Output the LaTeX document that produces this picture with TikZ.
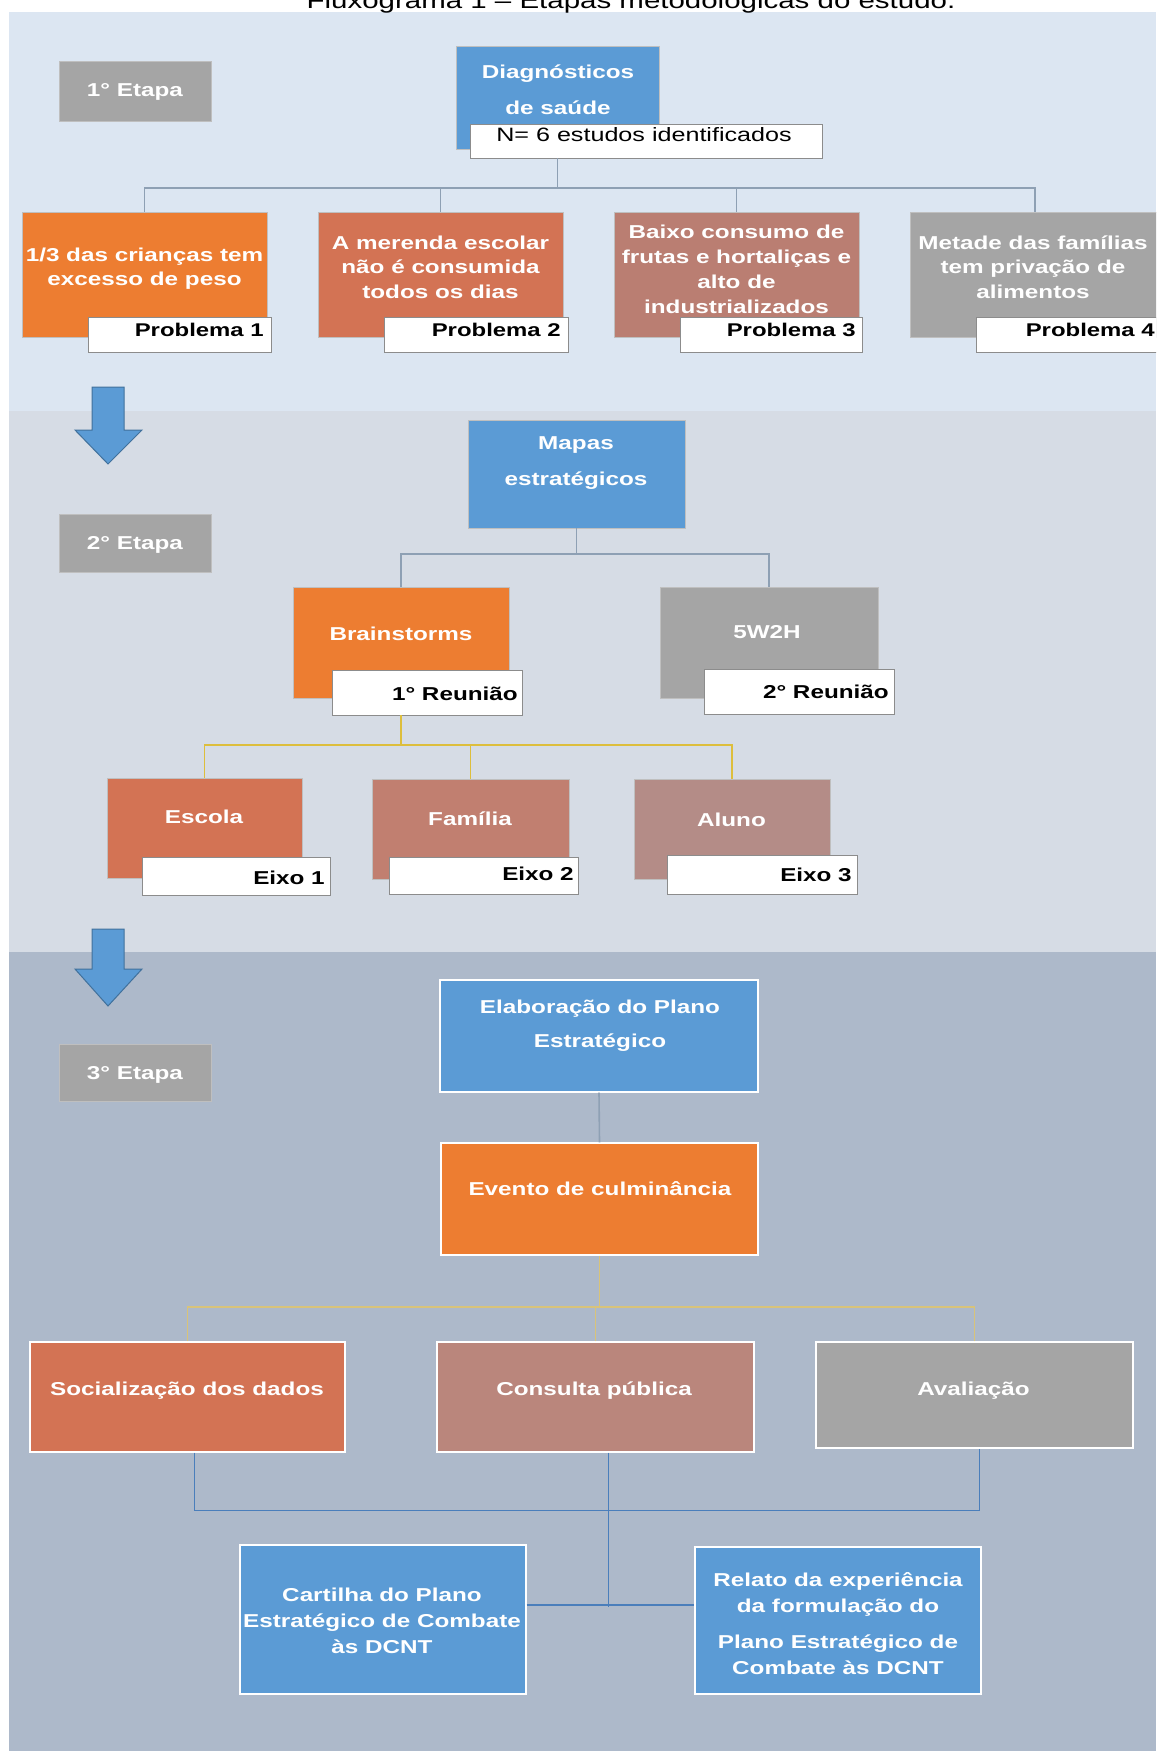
\documentclass[tikz,border=0pt]{standalone}
\usepackage{fontspec}
\setmainfont{Liberation Sans}[FakeStretch=1.3]
\usetikzlibrary{fit}
\definecolor{bandA}{HTML}{DCE6F2}
\definecolor{bandB}{HTML}{D6DCE5}
\definecolor{bandC}{HTML}{ADB9CA}
\definecolor{cblue}{HTML}{5B9BD5}
\definecolor{corange}{HTML}{ED7D31}
\definecolor{cterra}{HTML}{D37354}
\definecolor{crose}{HTML}{BA7E72}
\definecolor{crosb}{HTML}{C17F70}
\definecolor{crosc}{HTML}{BA867C}
\definecolor{cmauve}{HTML}{B48C87}
\definecolor{cgray}{HTML}{A5A5A5}
\definecolor{clineg}{HTML}{8EA0B4}
\definecolor{clineb}{HTML}{4A7EBB}
\definecolor{cyelA}{HTML}{DDBE3C}
\definecolor{cyelB}{HTML}{D8C37A}
\definecolor{carrow}{HTML}{41719C}
\begin{document}
\begin{tikzpicture}[x=0.75pt,y=-0.75pt,
  box/.style={inner sep=0pt, draw=black!25, line width=0.5pt},
  boxw/.style={inner sep=0pt, draw=white, line width=1pt},
  lbl/.style={inner sep=0pt, fill=white, draw=black!45, line width=0.6pt},
  wt/.style={text=white, align=center, inner sep=0pt, font=\bfseries\fontsize{14pt}{#1}\selectfont},
  wt/.default=18.5pt,
  lt/.style={text=black, inner sep=0pt, anchor=base east, font=\bfseries\fontsize{14pt}{17pt}\selectfont},
  gline/.style={draw=clineg, line width=1.2pt},
  yline/.style={draw=cyelA, line width=1.2pt},
  yline2/.style={draw=cyelB, line width=1.4pt},
  bline/.style={draw=clineb, line width=1.2pt},
  barrow/.style={fill=cblue, draw=carrow, line width=0.75pt}
]
\useasboundingbox (0,0) rectangle (1156,1751);
\begin{scope}
\clip (0,0) rectangle (1156,1751);
\fill[white] (0,0) rectangle (1156,1751);
\fill[bandA] (9,12) rectangle (1156,411);
\fill[bandB] (9,411) rectangle (1156,952);
\fill[bandC] (9,952) rectangle (1156,1751);

% title (cut at top, as in the reference)
\node[font=\fontsize{17pt}{20pt}\selectfont, anchor=base, inner sep=0pt] (title) at (631,8.5) {Fluxograma 1 – Etapas metodológicas do estudo.};

% ---------- Stage 1 ----------
\node[box, fill=cgray, fit={(59,61) (211,121)}] (e1) {};
\node[wt, anchor=base] (e1t) at (135,97) {1° Etapa};

\node[box, fill=cblue, fit={(456,46) (659,149)}] (diag) {};
\node[lbl, fit={(470,124) (822,158)}] (nlab) {};
\node[wt=27pt, anchor=center] (diagt) at (558,90) {Diagnósticos\\de saúde};
\node[font=\fontsize{14.5pt}{17pt}\selectfont, inner sep=0pt, anchor=base] (nt) at (644,142) {N= 6 estudos identificados};

\node[box, fill=corange, fit={(22,212) (267,337)}] (p1) {};
\node[box, fill=cterra, fit={(318,212) (563,337)}] (p2) {};
\node[box, fill=crose, fit={(614,212) (859,337)}] (p3) {};
\node[box, fill=cgray, fit={(910,212) (1160,337)}] (p4) {};
\node[lbl, fit={(88,317) (271,352)}] (l1) {};
\node[lbl, fit={(384,317) (568,352)}] (l2) {};
\node[lbl, fit={(680,317) (862,352)}] (l3) {};
\node[lbl, fit={(976,317) (1170,352)}] (l4) {};
\node[wt=18pt, anchor=center] (p1t) at (144.5,268.5) {1/3 das crianças tem\\excesso de peso};
\node[wt=18.5pt, anchor=center] (p2t) at (440.5,267) {A merenda escolar\\não é consumida\\todos os dias};
\node[wt=18.8pt, anchor=center] (p3t) at (736.5,269.5) {Baixo consumo de\\frutas e hortaliças e\\alto de\\industrializados};
\node[wt=18.5pt, anchor=center] (p4t) at (1033,267) {Metade das famílias\\tem privação de\\alimentos};
\node[lt, font=\bfseries\fontsize{13.8pt}{16pt}\selectfont] (l1t) at (264,337) {Problema 1};
\node[lt, font=\bfseries\fontsize{13.8pt}{16pt}\selectfont] (l2t) at (561,337) {Problema 2};
\node[lt, font=\bfseries\fontsize{13.8pt}{16pt}\selectfont] (l3t) at (856,337) {Problema 3};
\node[lt, font=\bfseries\fontsize{13.8pt}{16pt}\selectfont] (l4t) at (1155,337) {Problema 4};

\coordinate (j1) at (diag.center |- 0,188);
\draw[gline] (diag.center |- nlab.south) -- (j1);
\draw[gline] (p1.north) |- (j1);
\draw[gline] (p2.north) |- (j1);
\draw[gline] (p3.north) |- (j1);
\draw[gline] (p4.north) |- (j1);

% arrow 1
\draw[barrow] (92,387) -- (124,387) -- (124,430) -- (142,430) -- (108,464) -- (75,430) -- (92,430) -- cycle;

% ---------- Stage 2 ----------
\node[box, fill=cgray, fit={(59,514) (211,572)}] (e2) {};
\node[wt, anchor=base] (e2t) at (135,549) {2° Etapa};

\node[box, fill=cblue, fit={(468,420) (685,528)}] (mapas) {};
\node[wt=27pt, anchor=center] (mapast) at (576,463) {Mapas\\estratégicos};

\node[box, fill=corange, fit={(293,587) (509,698)}] (brain) {};
\node[box, fill=cgray, fit={(660,587) (878,698)}] (w2h) {};
\node[lbl, fit={(332,670) (522,715)}] (r1) {};
\node[lbl, fit={(704,669) (894,714)}] (r2) {};
\node[wt, anchor=base] (braint) at (401,640) {Brainstorms};
\node[wt, anchor=base] (w2ht) at (767,638) {5W2H};
\node[lt] (r1t) at (518,700) {1° Reunião};
\node[lt] (r2t) at (889,698) {2° Reunião};

\coordinate (j2) at (mapas.south |- 0,554);
\draw[gline] (mapas.south) -- (j2);
\draw[gline] (brain.north) |- (j2);
\draw[gline] (w2h.north) |- (j2);

\node[box, fill=cterra, fit={(107,778) (302,878)}] (escola) {};
\node[box, fill=crosb, fit={(372,779) (569,879)}] (familia) {};
\node[box, fill=cmauve, fit={(634,779) (830,879)}] (aluno) {};
\node[lbl, fit={(142,857) (330,895)}] (x1) {};
\node[lbl, fit={(389,857) (578,894)}] (x2) {};
\node[lbl, fit={(667,855) (857,894)}] (x3) {};
\node[wt, anchor=base] (escolat) at (204,823) {Escola};
\node[wt, anchor=base] (familiat) at (470,825) {Família};
\node[wt, anchor=base] (alunot) at (731.5,826) {Aluno};
\node[lt] (x1t) at (325,884) {Eixo 1};
\node[lt] (x2t) at (574,880) {Eixo 2};
\node[lt] (x3t) at (852,881) {Eixo 3};

\coordinate (j3) at (brain.center |- 0,745);
\draw[yline] (brain.center |- r1.south) -- (j3);
\draw[yline] (escola.north) |- (j3);
\draw[yline] (familia.north) |- (j3);
\draw[yline] (aluno.north) |- (j3);

% arrow 2
\draw[barrow] (92,929) -- (124,929) -- (124,969) -- (142,969) -- (108,1006) -- (75,969) -- (92,969) -- cycle;

% ---------- Stage 3 ----------
\node[box, fill=cgray, fit={(59,1044) (211,1101)}] (e3) {};
\node[wt, anchor=base] (e3t) at (135,1079) {3° Etapa};

\node[boxw, fill=cblue, fit={(440,980) (758,1092)}] (elab) {};
\node[wt=25.5pt, anchor=center] (elabt) at (600,1026) {Elaboração do Plano\\Estratégico};
\node[boxw, fill=corange, fit={(441,1143) (758,1255)}] (evento) {};
\node[wt, anchor=base] (eventot) at (600,1195) {Evento de culminância};
\draw[gline] (elab.south) -- (evento.north);

\node[boxw, fill=cterra, fit={(30,1342) (345,1452)}] (soc) {};
\node[boxw, fill=crosc, fit={(437,1342) (754,1452)}] (cons) {};
\node[boxw, fill=cgray, fit={(816,1342) (1133,1448)}] (aval) {};
\node[wt, anchor=base] (soct) at (187,1395) {Socialização dos dados};
\node[wt, anchor=base] (const) at (594,1395) {Consulta pública};
\node[wt, anchor=base] (avalt) at (973.5,1395) {Avaliação};

\coordinate (j4) at (evento.south |- 0,1307);
\draw[yline2] (evento.south) -- (j4);
\draw[yline2] (soc.north) |- (j4);
\draw[yline2] (cons.north) |- (j4);
\draw[yline2] (aval.north) |- (j4);

\node[boxw, fill=cblue, fit={(240,1545) (526,1694)}] (cart) {};
\node[boxw, fill=cblue, fit={(695,1547) (981,1694)}] (rel) {};
\node[wt=19.5pt, anchor=center] (cartt) at (382,1621) {Cartilha do Plano\\Estratégico de Combate\\às DCNT};
\node[wt=19.5pt, anchor=center] (relt) at (838,1624) {Relato da experiência\\da formulação do\\[7.5pt]Plano Estratégico de\\Combate às DCNT};

\draw[bline] ([xshift=5.25pt]soc.south) -- ++(0,58) -| ([xshift=3.75pt]aval.south);
\coordinate (j5) at ([xshift=9.75pt]cons.south |- 0,1607);
\draw[bline] ([xshift=9.75pt]cons.south) -- (j5);
\draw[bline] (cart.east |- 0,1605) -- (rel.west |- 0,1605);
\end{scope}
\end{tikzpicture}
\end{document}
